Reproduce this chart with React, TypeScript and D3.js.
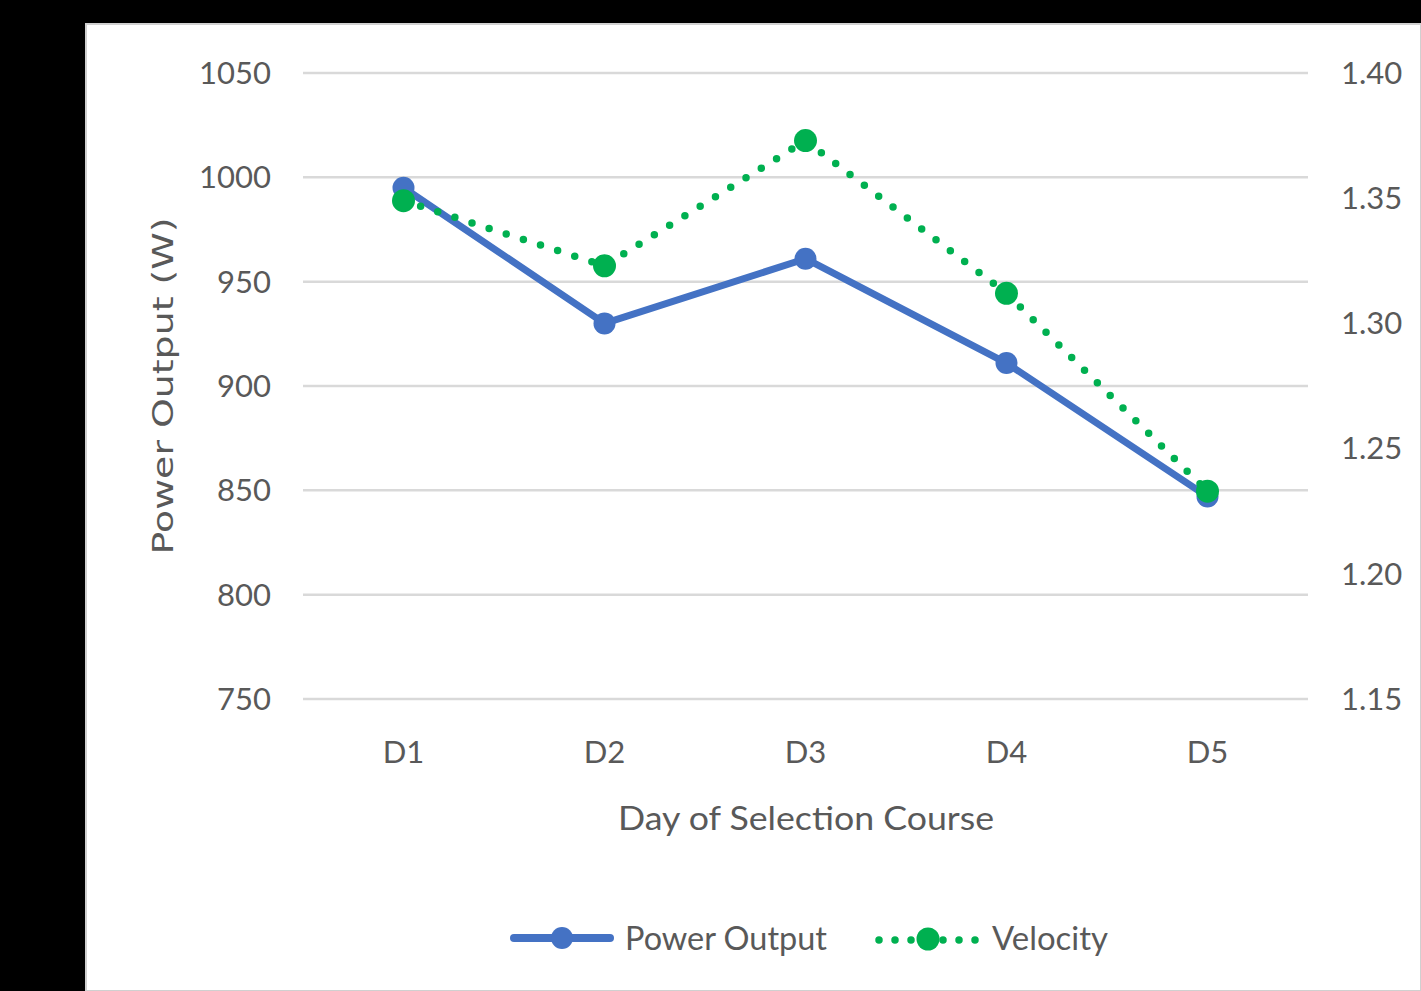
import React from "react";
import * as d3 from "d3";

const categories = ["D1", "D2", "D3", "D4", "D5"];
const powerOutput = [995, 930, 961, 911, 847];
const velocity = [1.349, 1.323, 1.373, 1.312, 1.233];
const leftTicks = [750, 800, 850, 900, 950, 1000, 1050];
const rightTicks = [1.15, 1.2, 1.25, 1.3, 1.35, 1.4];

const W = 1421;
const H = 991;
const plot = { left: 303, right: 1308, top: 73, bottom: 699 };
const BLUE = "#4472C4";
const GREEN = "#00B050";
const TEXT = "#595959";
const FONT = "Lato, 'Open Sans', sans-serif";

export default function App() {
  const x = d3.scalePoint<string>().domain(categories).range([plot.left, plot.right]).padding(0.5);
  const yL = d3.scaleLinear().domain([750, 1050]).range([plot.bottom, plot.top]);
  const yR = d3.scaleLinear().domain([1.15, 1.4]).range([plot.bottom, plot.top]);

  const linePower = d3.line<number>().x((_, i) => x(categories[i])!).y((d) => yL(d));
  const lineVel = d3.line<number>().x((_, i) => x(categories[i])!).y((d) => yR(d));

  return (
    <svg width={W} height={H} style={{ position: "absolute", left: 0, top: 0 }}>
      <rect x={0} y={0} width={W} height={H} fill="#000" />
      <rect x={86} y={24} width={W - 86} height={H - 24} fill="#fff" stroke="#d0d0d0" strokeWidth={2} />
      {leftTicks.map((t) => (
        <line key={t} x1={plot.left} x2={plot.right} y1={yL(t)} y2={yL(t)} stroke="#D9D9D9" strokeWidth={2.5} />
      ))}
      {leftTicks.map((t) => (
        <text key={"l" + t} x={271} y={yL(t)} dy="0.35em" textAnchor="end" fontFamily={FONT} fontSize={31} fill={TEXT}>
          {t}
        </text>
      ))}
      {rightTicks.map((t) => (
        <text key={"r" + t} x={1341} y={yR(t)} dy="0.35em" textAnchor="start" fontFamily={FONT} fontSize={31} fill={TEXT}>
          {d3.format(".2f")(t)}
        </text>
      ))}
      {categories.map((c) => (
        <text key={c} x={x(c)!} y={752} dy="0.35em" textAnchor="middle" fontFamily={FONT} fontSize={31} fill={TEXT}>
          {c}
        </text>
      ))}
      <text x={806} y={818} dy="0.35em" textAnchor="middle" fontFamily={FONT} fontSize={33} fill={TEXT} textLength={376} lengthAdjust="spacingAndGlyphs">
        Day of Selection Course
      </text>
      <text
        transform="translate(163,386) rotate(-90)"
        textAnchor="middle"
        dy="0.35em"
        fontFamily="'DejaVu Sans', sans-serif"
        fontSize={28}
        fill={TEXT}
        textLength={337}
        lengthAdjust="spacingAndGlyphs"
      >
        Power Output (W)
      </text>

      <path d={linePower(powerOutput)!} fill="none" stroke={BLUE} strokeWidth={7} strokeLinejoin="round" />
      {powerOutput.map((v, i) => (
        <circle key={"p" + i} cx={x(categories[i])!} cy={yL(v)} r={11} fill={BLUE} />
      ))}
      <path d={lineVel(velocity)!} fill="none" stroke={GREEN} strokeWidth={7.5} strokeLinecap="round" strokeDasharray="0 18" />
      {velocity.map((v, i) => (
        <circle key={"v" + i} cx={x(categories[i])!} cy={yR(v)} r={11.5} fill={GREEN} />
      ))}

      {/* legend */}
      <line x1={514} x2={610} y1={938} y2={938} stroke={BLUE} strokeWidth={8} strokeLinecap="round" />
      <circle cx={562} cy={938} r={11} fill={BLUE} />
      <text x={625} y={938} dy="0.35em" fontFamily={FONT} fontSize={33} fill={TEXT} textLength={202} lengthAdjust="spacingAndGlyphs">
        Power Output
      </text>
      <line x1={879} x2={976} y1={940} y2={940} stroke={GREEN} strokeWidth={7.5} strokeLinecap="round" strokeDasharray="0 16" />
      <circle cx={928} cy={939} r={11.5} fill={GREEN} />
      <text x={992} y={938} dy="0.35em" fontFamily={FONT} fontSize={33} fill={TEXT} textLength={116} lengthAdjust="spacingAndGlyphs">
        Velocity
      </text>
    </svg>
  );
}
